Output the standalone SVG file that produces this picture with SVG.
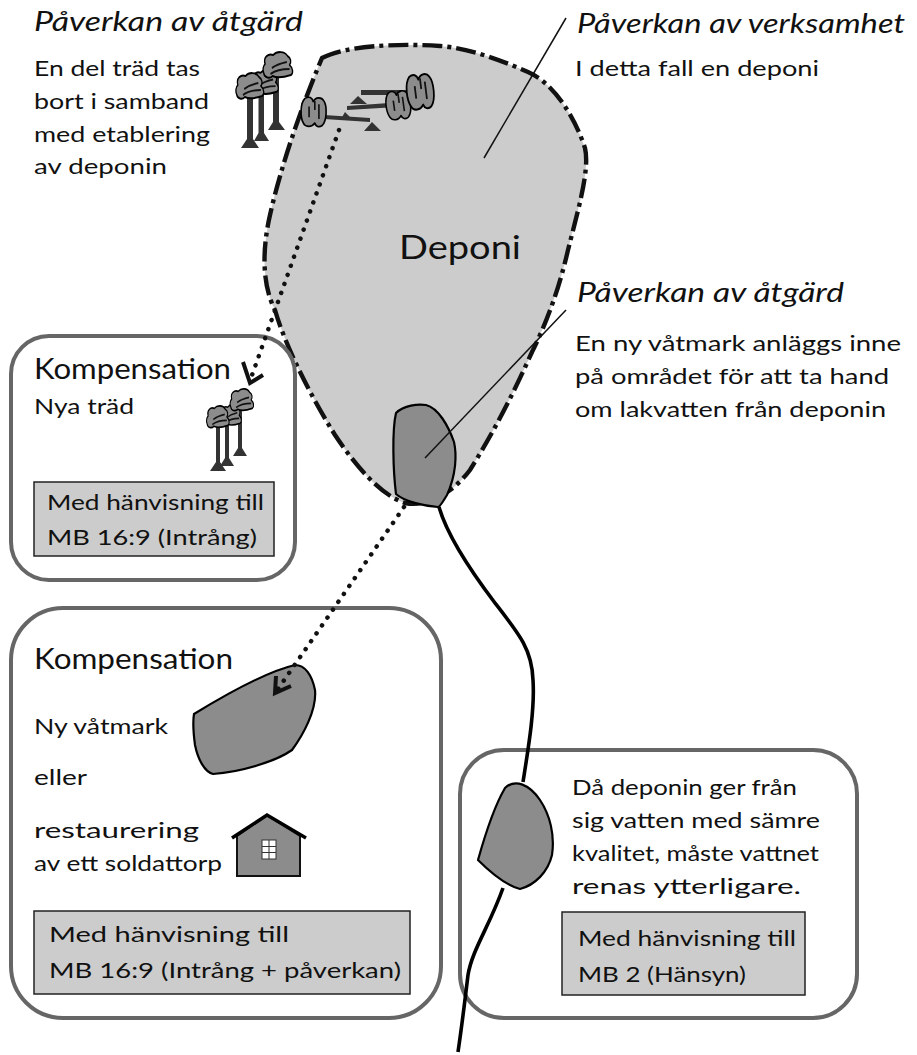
<svg xmlns="http://www.w3.org/2000/svg" xmlns:xlink="http://www.w3.org/1999/xlink" width="917" height="1055" viewBox="0 0 917 1055">
<style>
text{font-family:"Lato","Noto Sans",sans-serif;fill:#111}
.h{font-size:27px;font-style:italic}
.k{font-size:29px}
.b{font-size:21.5px}
.box{fill:none;stroke:#666;stroke-width:4}
.ref{fill:#ccc;stroke:#222;stroke-width:1.5}
.dark{fill:#8c8c8c;stroke:#000;stroke-width:2.2;stroke-linejoin:round}
.thin{fill:none;stroke:#111;stroke-width:1.5}
.dot{fill:none;stroke:#111;stroke-width:4.5;stroke-linecap:round;stroke-dasharray:.1 9.5}
.head{fill:none;stroke:#111;stroke-width:4}
.river{fill:none;stroke:#000;stroke-width:3.6}
.trunk{fill:#333}
.crown{fill:#8c8c8c;stroke:#000;stroke-width:2;stroke-linejoin:round}
.mark{fill:none;stroke:#111;stroke-width:2}
</style>
<defs>
<g id="crown">
<path class="crown" d="M-19 -7C-22 -14 -14 -18 -7 -16C-2 -20 10 -20 14 -15C19 -13 20 -9 17 -6C22 -3 23 2 19 4C10 6 -2 7 -8 5C-12 8 -20 7 -21 2C-23 -1 -22 -5 -19 -7Z"/>
<path class="mark" d="M-9 -3C-1 -7 6 -8 13 -9M-11 3C-3 -1 8 -2 17 -2"/>
</g>
<g id="blob">
<path class="crown" d="M-11 -19C-6 -22 -2 -20 -1 -15C2 -21 9 -21 12 -16C16 -10 16 8 10 14C6 17 2 15 1 11C-3 17 -11 16 -13 11C-17 4 -17 -13 -11 -19Z"/>
<path class="mark" d="M-6 -9V4M6 -12V6M1 -16V-5"/>
</g>
</defs>

<g id="deponi">
<path d="M322 58C345 46 395 43 440 46C470 48 505 62 528 72C555 84 575 118 585 148C590 170 578 210 568 250C560 285 548 320 532 352C515 390 495 430 470 470C455 490 430 508 405 503C380 495 355 465 335 435C310 395 285 345 275 310C262 285 262 250 270 215C280 170 300 110 322 58Z" fill="#ccc" stroke="#111" stroke-width="4.4" stroke-dasharray="20 5 4 5"/>
</g>
<g id="wetland-1">
<path class="dark" d="M396 413C404 405 418 404 426 405C438 408 448 425 454 442C457 455 456 475 447 495C442 503 440 507 438 507C425 506 405 502 396 494C393 470 392 430 396 413Z"/>
</g>

<g id="trees-deponi">
<path class="trunk" d="M247 98H253V139L259 148H241L247 139Z"/>
<path class="trunk" d="M258.500 92H264V133L269 141H254L258.500 133Z"/>
<path class="trunk" d="M273 74H279V122L285 130H268L273 122Z"/>
<use xlink:href="#crown" transform="translate(265,88) scale(.62,.95)"/>
<use xlink:href="#crown" transform="translate(250,92) scale(.64,1)"/>
<use xlink:href="#crown" transform="translate(278,71) scale(.68,1)"/>
</g>
<g id="fallen-trees">
<path d="M361 90H409V95H361ZM347 106L389 103V107.500L347 110ZM324 115L370 118V122L324 119Z" fill="#333"/>
<path d="M350 104L358 96L367 104ZM364 131L372 122L381 131ZM341 119L345 112L352 119Z" fill="#333"/>
<use xlink:href="#blob" transform="translate(314,114) scale(.82)"/>
<use xlink:href="#blob" transform="translate(399,107) scale(.8,.8) rotate(-8)"/>
<use xlink:href="#blob" transform="translate(421,94) scale(.88,.98) rotate(-8)"/>
</g>

<g id="box-kompensation-1">
<rect class="box" x="11" y="336" width="284" height="244" rx="38"/>
<text class="k" x="34" y="379" textLength="197" lengthAdjust="spacingAndGlyphs">Kompensation</text>
<text class="b" x="34" y="414" textLength="100" lengthAdjust="spacingAndGlyphs">Nya träd</text>
<path class="trunk" d="M216 425H220V462L226 471H210L216 462Z"/>
<path class="trunk" d="M225 425H229V458L234 466H220L225 458Z"/>
<path class="trunk" d="M238 408H242V448L247 456H233L238 448Z"/>
<use xlink:href="#crown" transform="translate(231,420) scale(.48,.8)"/>
<use xlink:href="#crown" transform="translate(218,422) scale(.52,.85)"/>
<use xlink:href="#crown" transform="translate(242,405) scale(.54,.85)"/>
<rect class="ref" x="34" y="482" width="240" height="74"/>
<text class="b" x="47" y="510" textLength="217" lengthAdjust="spacingAndGlyphs">Med hänvisning till</text>
<text class="b" x="47" y="545" textLength="210" lengthAdjust="spacingAndGlyphs">MB 16:9 (Intrång)</text>
</g>

<g id="box-kompensation-2">
<rect class="box" x="11" y="608" width="430" height="410" rx="52"/>
<text class="k" x="34" y="669" textLength="199" lengthAdjust="spacingAndGlyphs">Kompensation</text>
<text class="b" x="34" y="734" textLength="134" lengthAdjust="spacingAndGlyphs">Ny våtmark</text>
<path class="dark" d="M194 714C225 695 265 672 295 665C305 665 312 675 315 690C317 710 303 735 292 750C275 762 240 772 213 774C205 772 198 760 195 745C193 730 193 720 194 714Z"/>
<text class="b" x="34" y="785" textLength="53" lengthAdjust="spacingAndGlyphs">eller</text>
<text class="b" x="34" y="838" textLength="165" lengthAdjust="spacingAndGlyphs">restaurering</text>
<text class="b" x="34" y="871" textLength="188" lengthAdjust="spacingAndGlyphs">av ett soldattorp</text>
<g id="torp">
<path d="M237 836L267 815L300 836V876H237Z" fill="#8c8c8c" stroke="#111" stroke-width="2"/>
<path d="M232 838L267 815L306 838" fill="none" stroke="#000" stroke-width="3.5"/>
<rect x="262" y="840" width="14" height="19" fill="#fff" stroke="#333" stroke-width="1"/>
<path d="M269 840V859M262 846.500H276M262 852.500H276" stroke="#333" stroke-width="1"/>
</g>
<rect class="ref" x="34" y="911" width="376" height="83"/>
<text class="b" x="49" y="942" textLength="240" lengthAdjust="spacingAndGlyphs">Med hänvisning till</text>
<text class="b" x="49" y="978" textLength="352" lengthAdjust="spacingAndGlyphs">MB 16:9 (Intrång + påverkan)</text>
</g>

<g id="box-hansyn">
<rect class="box" x="460" y="750" width="397" height="268" rx="44"/>
<path class="dark" d="M478 860C485 835 495 805 505 788C515 778 530 785 540 800C550 815 555 835 552 855C548 872 535 885 520 889C505 885 490 872 478 860Z"/>
<text class="b" x="572" y="795" textLength="225" lengthAdjust="spacingAndGlyphs">Då deponin ger från</text>
<text class="b" x="572" y="828" textLength="248" lengthAdjust="spacingAndGlyphs">sig vatten med sämre</text>
<text class="b" x="572" y="861" textLength="247" lengthAdjust="spacingAndGlyphs">kvalitet, måste vattnet</text>
<text class="b" x="572" y="894" textLength="229" lengthAdjust="spacingAndGlyphs">renas ytterligare.</text>
<rect class="ref" x="562" y="912" width="243" height="83"/>
<text class="b" x="578" y="946" textLength="218" lengthAdjust="spacingAndGlyphs">Med hänvisning till</text>
<text class="b" x="578" y="982" textLength="168" lengthAdjust="spacingAndGlyphs">MB 2 (Hänsyn)</text>
</g>

<g id="label-atgard-1">
<text class="h" x="34" y="31" textLength="269" lengthAdjust="spacingAndGlyphs">Påverkan av åtgärd</text>
<text class="b" x="34" y="76" textLength="166" lengthAdjust="spacingAndGlyphs">En del träd tas</text>
<text class="b" x="34" y="109" textLength="175" lengthAdjust="spacingAndGlyphs">bort i samband</text>
<text class="b" x="34" y="142" textLength="176" lengthAdjust="spacingAndGlyphs">med etablering</text>
<text class="b" x="34" y="174" textLength="133" lengthAdjust="spacingAndGlyphs">av deponin</text>
</g>
<g id="label-verksamhet">
<text class="h" x="577" y="33" textLength="328" lengthAdjust="spacingAndGlyphs">Påverkan av verksamhet</text>
<text class="b" x="575" y="76" textLength="244" lengthAdjust="spacingAndGlyphs">I detta fall en deponi</text>
</g>
<g id="label-deponi">
<text x="399" y="259" font-size="33" textLength="122" lengthAdjust="spacingAndGlyphs">Deponi</text>
</g>
<g id="label-atgard-2">
<text class="h" x="577" y="302" textLength="267" lengthAdjust="spacingAndGlyphs">Påverkan av åtgärd</text>
<text class="b" x="575" y="351" textLength="326" lengthAdjust="spacingAndGlyphs">En ny våtmark anläggs inne</text>
<text class="b" x="575" y="384" textLength="314" lengthAdjust="spacingAndGlyphs">på området för att ta hand</text>
<text class="b" x="575" y="417" textLength="311" lengthAdjust="spacingAndGlyphs">om lakvatten från deponin</text>
</g>

<g id="connectors">
<path class="thin" d="M566 18L484 158"/>
<path class="thin" d="M566 310L425 458"/>
<path class="dot" d="M339 130L251 378"/>
<path class="head" d="M243 362L250 383L263 375"/>
<path class="dot" d="M404 507L278 689"/>
<path class="head" d="M276 676L275 693L291 686"/>
<path class="river" d="M439 507C447 535 470 570 495 603C520 635 532 650 533 680C535 710 528 750 523 782"/>
<path class="river" d="M503 888C490 925 472 950 468 975C465 1000 462 1025 458 1052"/>
</g>
</svg>
